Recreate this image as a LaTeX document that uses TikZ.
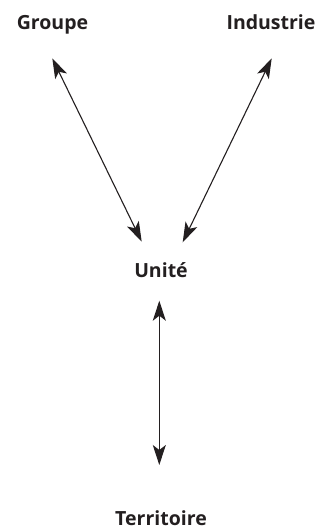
\documentclass[tikz,border=0pt]{standalone}
\usepackage{fontspec}
\setmainfont{Open Sans}
\usetikzlibrary{arrows.meta}
\definecolor{ink}{HTML}{231F20}
\begin{document}
\begin{tikzpicture}[x=1pt,y=-1pt,
  lbl/.style={font=\bfseries\fontsize{19.5}{23}\selectfont, text=ink, inner sep=0pt, anchor=base},
  link/.style={draw=ink, line width=1.1pt, {Stealth[length=20pt,width=13pt,inset=5pt]}-{Stealth[length=20pt,width=13pt,inset=5pt]}}]
\useasboundingbox (0,0) rectangle (323,530);
\node[lbl] (groupe) at (52.5,29) {Groupe};
\node[lbl] (industrie) at (271,29) {Industrie};
\node[lbl] (unite) at (161,277) {Unité};
\node[lbl] (territoire) at (161,525) {Territoire};
\coordinate (g) at (52.3,58.3);
\coordinate (i) at (271.7,58.3);
\coordinate (ul) at (141.7,241.7);
\coordinate (ur) at (182.7,242.3);
\coordinate (ut) at (159.3,300.7);
\coordinate (tb) at (159.3,465);
\draw[link] (g) -- (ul);
\draw[link] (i) -- (ur);
\draw[link] (ut) -- (tb);
\end{tikzpicture}
\end{document}
